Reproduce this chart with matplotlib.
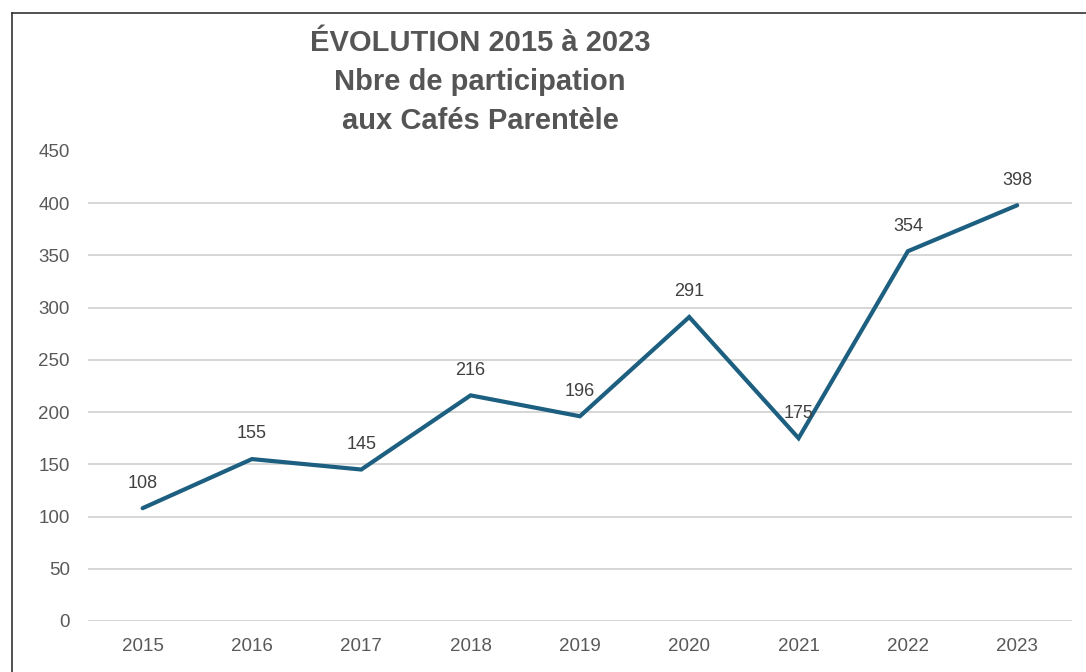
import matplotlib
matplotlib.use("Agg")
import numpy as np
import matplotlib.pyplot as plt
from matplotlib.lines import Line2D

years = ["2015", "2016", "2017", "2018", "2019", "2020", "2021", "2022", "2023"]
participants = [108, 155, 145, 216, 196, 291, 175, 354, 398]
yticks = [0, 50, 100, 150, 200, 250, 300, 350, 400, 450]
title_lines = ["ÉVOLUTION 2015 à 2023", "Nbre de participation", "aux Cafés Parentèle"]

plt.rcParams['font.family'] = ['Liberation Sans', 'DejaVu Sans']

fig = plt.figure(figsize=(10.86, 6.72), dpi=100)
ax = fig.add_axes([0.081, 0.0759, 0.906, 0.6995])

x = np.arange(len(years))
ax.plot(x, participants, color="#1d5f80", linewidth=3.0, solid_capstyle="round",
        solid_joinstyle="miter", zorder=3)

for xi, v in zip(x, participants):
    ax.annotate(str(v), (xi, v), xytext=(0, 12), textcoords="offset points",
                ha="center", va="bottom", fontsize=13, color="#404040")

ax.set_xlim(-0.5, len(years) - 0.5)
ax.set_ylim(0, 450)
ax.set_xticks(x)
ax.set_xticklabels(years)
ax.set_yticks(yticks)

# gridlines, but no line at the top value
for yv in yticks[:-1]:
    ax.axhline(yv, color="#d0d0d0", linewidth=1.2, zorder=1)

for s in ax.spines.values():
    s.set_visible(False)
ax.tick_params(axis="both", length=0, labelsize=13.5, labelcolor="#595959")
ax.tick_params(axis="x", pad=12)
ax.tick_params(axis="y", pad=13)

# title, three lines
for i, t in enumerate(title_lines):
    fig.text(0.442, 0.936 - i * 0.058, t, ha="center", va="center",
             fontsize=21, fontweight="bold", color="#555555")

# frame on top and left edge
fig.add_artist(Line2D([12 / 1086, 12 / 1086], [0, 1 - 13 / 672],
                      transform=fig.transFigure, color="#333333", linewidth=1.2))
fig.add_artist(Line2D([12 / 1086, 1], [1 - 13 / 672, 1 - 13 / 672],
                      transform=fig.transFigure, color="#333333", linewidth=1.2))

fig.savefig("out.png", dpi=100)
